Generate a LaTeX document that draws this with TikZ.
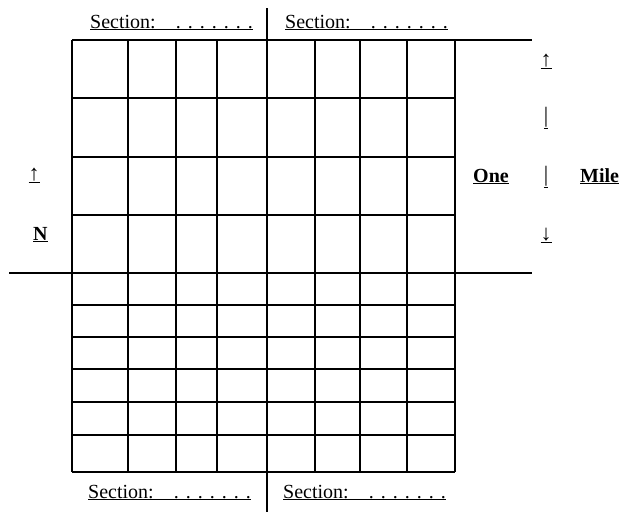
\documentclass[tikz,border=0pt]{standalone}
\usepackage{fontspec}
\setmainfont{Liberation Serif}
\usetikzlibrary{positioning}
\tikzset{
        gridline/.style = {draw, line width=1.9pt},
        axisline/.style = {draw, line width=2pt},
        seclabel/.style = {font=\fontsize{20}{24}\selectfont, inner sep=0pt, anchor=base west},
        milelabel/.style = {font=\fontsize{20}{24}\selectfont\bfseries, inner sep=0pt, anchor=base west},
        ticklabel/.style = {font=\fontsize{22}{26}\selectfont, inner sep=0pt, anchor=base},
}
\newcommand{\sectionline}{\underline{Section:\hspace{1em}.\hspace{0.35em}.\hspace{0.35em}.\hspace{0.35em}.\hspace{0.35em}.\hspace{0.35em}.\hspace{0.35em}.}}

\begin{document}
\begin{tikzpicture}[x=1pt, y=-1pt]
\useasboundingbox (0,0) rectangle (631,512);
% grid
\foreach \x in {72,128,176,217,315,360,407,455}
    \draw [gridline] (\x,40) -- (\x,472);
\foreach \y in {98,157,215,305,337,369,402,435}
    \draw [gridline] (72,\y) -- (455,\y);
\draw [gridline] (72,472) -- (455,472);
% section lines
\draw [axisline] (72,40) -- (532,40);
\draw [axisline] (9,273) -- (532,273);
\draw [axisline] (267,8) -- (267,512);
% labels
\node [seclabel] (secnw) at (90,28) {\sectionline};
\node [seclabel] (secne) at (285,28) {\sectionline};
\node [seclabel] (secsw) at (88,498) {\sectionline};
\node [seclabel] (secse) at (283,498) {\sectionline};
\node [ticklabel] (northarrow) at (34,180) {\underline{↑}};
\node [milelabel] (north) at (33,240) {\underline{N}};
\node [milelabel] (one) at (473,182) {\underline{One}};
\node [milelabel] (mile) at (580,182) {\underline{Mile}};
\node [ticklabel] (tickA) at (546,66) {\underline{↑}};
\node [ticklabel] (tickB) at (546,122) {\underline{|}};
\node [ticklabel] (tickC) at (546,181) {\underline{|}};
\node [ticklabel] (tickD) at (546,240) {\underline{↓}};
\end{tikzpicture}
\end{document}
